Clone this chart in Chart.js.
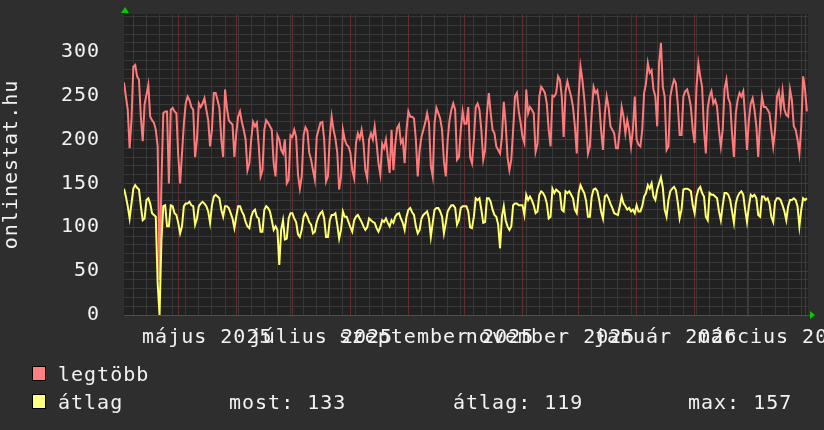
<!DOCTYPE html>
<html>
<head>
<meta charset="utf-8">
<script src="https://cdn.jsdelivr.net/npm/chart.js@4/dist/chart.umd.min.js"></script>
<style>
  html, body { margin: 0; padding: 0; background: #2e2e2e; }
  canvas { display: block; }
</style>
</head>
<body>
<canvas id="grafikon" width="824" height="430"></canvas>
<script>
// napi adatok (2025. ápr. 2. - 2026. ápr. 2.)
const legtobb = [
  265,249,234,190,222,283,285,272,268,226,
  198,240,251,262,226,222,219,211,192,40,
  150,230,232,232,150,234,236,232,230,182,
  150,184,218,241,249,245,237,234,180,200,
  241,237,241,247,234,222,192,211,253,253,
  245,236,200,180,257,236,222,219,217,180,
  207,226,232,220,211,200,165,173,200,220,
  215,219,194,158,165,211,222,219,215,211,
  173,158,205,200,188,184,200,150,154,205,
  203,211,203,160,144,158,205,214,210,185,
  177,165,154,203,211,219,220,200,152,158,
  203,226,211,201,185,143,158,211,200,194,
  192,185,165,156,196,207,201,211,196,165,
  156,200,207,200,215,196,173,160,195,190,
  200,180,162,211,165,195,213,217,196,200,
  173,211,232,226,226,224,200,158,188,203,
  211,219,230,219,170,158,219,236,230,224,
  211,175,158,200,222,234,241,234,177,180,
  211,232,218,218,237,180,173,200,237,241,
  234,211,177,188,230,253,230,211,207,192,
  188,184,203,243,218,180,165,177,211,249,
  253,232,219,203,196,257,230,237,234,230,
  186,195,249,260,257,253,241,211,192,250,
  249,253,272,268,249,203,255,266,257,249,
  237,215,184,249,283,268,247,219,184,192,
  230,260,253,256,241,211,188,230,249,237,
  215,211,207,190,190,211,237,226,207,222,
  211,192,211,249,200,194,192,211,253,264,
  287,276,279,257,249,215,287,310,260,249,
  188,192,249,260,268,264,240,205,205,249,
  255,257,249,237,211,196,260,287,272,260,
  211,184,236,249,255,241,245,237,211,192,
  211,258,268,247,241,207,180,230,245,253,
  249,255,226,188,222,241,247,234,215,180,
  222,249,237,237,234,230,211,192,211,249,
  255,234,255,234,228,226,257,245,215,211,
  200,184,215,272,257,232
];

const atlag = [
  144,135,124,110,127,144,148,145,143,124,
  108,110,131,133,127,116,114,112,36,0,
  85,124,125,101,101,125,124,116,114,105,
  93,101,124,127,127,129,125,124,103,110,
  124,127,129,127,124,118,105,125,135,137,
  135,133,120,112,124,124,122,116,110,99,
  112,124,124,118,114,106,101,99,112,118,
  120,112,110,95,95,120,124,122,118,108,
  97,101,97,57,97,108,86,87,110,116,
  116,110,106,92,89,97,112,116,112,106,
  103,93,95,106,112,116,118,110,89,89,
  108,114,114,116,103,87,97,118,112,112,
  106,100,95,108,112,114,110,106,101,97,
  100,110,108,106,105,99,95,100,108,106,
  110,105,101,108,105,112,115,116,110,105,
  97,112,120,122,117,114,101,93,97,110,
  114,116,118,110,89,105,120,122,122,118,
  112,93,105,118,122,125,125,122,103,108,
  122,124,124,124,118,100,99,112,133,131,
  133,120,105,106,133,133,129,120,114,112,
  103,76,112,124,108,101,97,101,125,127,
  127,125,125,125,114,137,131,135,131,125,
  116,118,137,141,139,135,127,110,112,144,
  139,143,141,139,120,118,141,139,141,137,
  133,120,116,139,148,143,139,130,112,112,
  135,143,144,141,131,118,110,135,137,133,
  127,122,116,115,114,124,135,127,124,120,
  122,118,120,116,125,118,118,124,135,139,
  148,144,150,135,131,143,150,157,145,120,
  112,131,141,144,146,142,128,110,120,143,
  144,144,143,141,125,116,135,143,146,139,
  135,112,108,139,137,137,135,133,118,108,
  125,139,139,137,131,118,105,127,135,139,
  141,137,120,106,124,137,135,137,133,114,
  112,135,135,131,133,127,112,106,129,133,
  133,131,125,118,108,124,131,131,133,131,
  124,101,120,133,131,133
];

// hónapkezdetek (piros rács) és heti vonalak (szürke rács), napban
const honapKezdetek = [29, 60, 90, 121, 152, 182, 213, 243, 274, 305, 333, 364];
const hetiVonalak = [5, 12, 19, 26, 33, 40, 47, 54, 61, 68, 75, 82, 89, 96, 103, 110, 117, 124, 131, 138,
  145, 152, 159, 166, 173, 180, 187, 194, 201, 208, 215, 222, 229, 236, 243, 250, 257, 264, 271, 278,
  285, 292, 299, 306, 313, 320, 327, 334, 341, 348, 355, 362];
// feliratok a hónapok közepén
const cimkeHelyek = [44.5, 105.5, 167, 228, 289.5, 348.5];
const cimkek = ['május 2025', 'július 2025', 'szeptember 2025', 'november 2025', 'január 2026', 'március 2026'];
const osszegzes = ['most: 133', 'átlag: 119', 'max: 157'];

const napok = legtobb.map((_, i) => i);

const BETU = 'DejaVu Sans Mono';
const SZURKE = 'rgb(56,56,56)';
const PIROS = 'rgb(96,46,46)';

// rácsvonal (egyenes, halvány)
function racsvonal(c, x1, y1, x2, y2, szin) {
  c.save();
  c.strokeStyle = szin;
  c.lineWidth = 1;
  c.beginPath();
  c.moveTo(x1 + 0.5, y1 + 0.5);
  c.lineTo(x2 + 0.5, y2 + 0.5);
  c.stroke();
  c.restore();
}

// háttér, rács, nyilak, jelmagyarázat
const rrdStilus = {
  id: 'rrdStilus',
  beforeUpdate(chart) { chart.ctx.letterSpacing = '1px'; },
  beforeDraw(chart) {
    const c = chart.ctx;
    const a = chart.chartArea;
    c.letterSpacing = '1px';
    c.save();
    c.fillStyle = '#2e2e2e';
    c.fillRect(0, 0, chart.width, chart.height);
    c.fillStyle = '#212121';
    c.fillRect(a.left, a.top, a.right - a.left, a.bottom - a.top);
    c.restore();
  },
  beforeDatasetsDraw(chart) {
    const c = chart.ctx;
    const a = chart.chartArea;
    const xs = chart.scales.x;
    const ys = chart.scales.y;
    const L = Math.floor(a.left), R = Math.floor(a.right), T = Math.floor(a.top), B = Math.floor(a.bottom);
    for (let v = 10; v <= 340; v += 10) {
      if (v % 50 === 0) continue;
      const y = Math.floor(ys.getPixelForValue(v));
      racsvonal(c, L, y, R, y, SZURKE);
    }
    hetiVonalak.forEach(d => {
      const x = Math.floor(xs.getPixelForValue(d));
      racsvonal(c, x, T, x, B, SZURKE);
    });
    for (let v = 50; v <= 300; v += 50) {
      const y = Math.floor(ys.getPixelForValue(v));
      racsvonal(c, L, y, R, y, PIROS);
    }
    honapKezdetek.forEach(d => {
      const x = Math.floor(xs.getPixelForValue(d));
      racsvonal(c, x, T, x, B, PIROS);
    });
    racsvonal(c, L, B, R + 3, B, 'rgb(80,80,80)');
  },
  afterDraw(chart) {
    const c = chart.ctx;
    const a = chart.chartArea;
    c.save();
    c.fillStyle = '#00cc00';
    c.beginPath();
    c.moveTo(a.left + 1, a.top - 7);
    c.lineTo(a.left - 3, a.top - 1);
    c.lineTo(a.left + 5, a.top - 1);
    c.fill();
    c.beginPath();
    c.moveTo(a.right + 7, a.bottom);
    c.lineTo(a.right + 2, a.bottom - 4);
    c.lineTo(a.right + 2, a.bottom + 4);
    c.fill();

    c.font = '20px "' + BETU + '"';
    c.letterSpacing = '1px';
    c.textBaseline = 'alphabetic';
    const sorok = [
      { nev: 'legtöbb', szin: '#ff8080', y: 381 },
      { nev: 'átlag', szin: '#ffff80', y: 409 }
    ];
    sorok.forEach(s => {
      c.fillStyle = s.szin;
      c.fillRect(32, s.y - 15, 13, 14);
      c.strokeStyle = '#000';
      c.lineWidth = 1;
      c.strokeRect(32.5, s.y - 14.5, 13, 14);
      c.fillStyle = '#f2f2f2';
      c.fillText(s.nev, 58, s.y);
    });
    c.fillText(osszegzes[0], 229, 409);
    c.fillText(osszegzes[1], 453, 409);
    c.fillText(osszegzes[2], 688, 409);
    c.restore();
  }
};

const ctx = document.getElementById('grafikon').getContext('2d');
new Chart(ctx, {
  type: 'line',
  data: {
    labels: napok,
    datasets: [
      { label: 'legtöbb', data: legtobb, borderColor: '#ff7b7b', borderWidth: 2, pointRadius: 0, tension: 0, order: 1 },
      { label: 'átlag', data: atlag, borderColor: '#ffff70', borderWidth: 2, pointRadius: 0, tension: 0, order: 0 }
    ]
  },
  options: {
    responsive: false,
    animation: false,
    layout: { padding: { left: 0, right: 16, top: 14, bottom: 0 } },
    plugins: { legend: { display: false }, tooltip: { enabled: false } },
    scales: {
      x: {
        type: 'linear', min: 0, max: 365.6, position: 'bottom',
        ticks: { display: false },
        grid: { display: false },
        border: { display: false },
        afterFit: s => { s.height = 0; s.paddingLeft = 0; s.paddingRight = 0; }
      },
      xCimke: {
        type: 'linear', min: 0, max: 365.6, position: 'bottom',
        afterBuildTicks: s => { s.ticks = cimkeHelyek.map(v => ({ value: v })); },
        ticks: {
          autoSkip: false, maxRotation: 0, padding: 3, color: '#f2f2f2',
          font: { family: BETU, size: 20 },
          callback: (v, i) => cimkek[i]
        },
        grid: { display: false },
        border: { display: false },
        afterFit: s => { s.height = 115; s.paddingLeft = 0; s.paddingRight = 0; }
      },
      y: {
        min: 0, max: 343,
        afterBuildTicks: s => { const t = []; for (let v = 0; v <= 300; v += 50) t.push({ value: v }); s.ticks = t; },
        ticks: {
          autoSkip: false, padding: 16, color: '#f2f2f2',
          font: { family: BETU, size: 20 }
        },
        grid: { display: false },
        border: { display: false },
        title: { display: true, text: 'onlinestat.hu', color: '#f2f2f2', font: { family: BETU, size: 20 }, padding: 0 },
        afterFit: s => { s.width = 124; s.paddingTop = 0; s.paddingBottom = 0; }
      }
    }
  },
  plugins: [rrdStilus]
});
</script>
</body>
</html>
